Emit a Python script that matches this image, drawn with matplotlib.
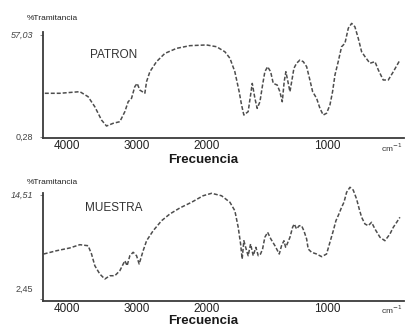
import numpy as np
import matplotlib
matplotlib.use("Agg")
import matplotlib.pyplot as plt

plt.rcParams['font.family'] = ['Liberation Sans', 'DejaVu Sans']

# IR spectrum of the reference standard: wavenumber (cm-1) and % transmittance
patron_wn = [4314, 4100, 3814, 3696, 3600, 3504, 3433, 3338, 3243, 3171, 3124, 3076,
             3029, 2996, 2957, 2886, 2861, 2814, 2719, 2600, 2433, 2243, 2005, 1919,
             1850, 1808, 1767, 1731, 1711, 1692, 1656, 1636, 1622, 1600, 1581, 1558,
             1536, 1517, 1494, 1469, 1447, 1414, 1392, 1372, 1356, 1342, 1325, 1308,
             1289, 1275, 1253, 1225, 1197, 1169, 1142, 1119, 1086, 1058, 1031, 1003,
             975, 953, 933, 906, 878, 850, 822, 794, 767, 739, 711, 683, 642, 600,
             572, 531, 489, 447, 392]
patron_t = [24.6, 24.6, 25.5, 22.7, 17.1, 9.7, 6.4, 7.9, 8.8, 14.4, 19.9, 21.8,
            28.3, 30.1, 26.4, 24.6, 31.1, 36.6, 42.2, 46.8, 49.6, 51.1, 51.5, 50.5,
            47.7, 44.1, 36.6, 25.5, 18.1, 12.5, 14.4, 23.6, 30.1, 21.8, 16.2, 19.9,
            29.2, 36.6, 39.4, 36.6, 30.1, 29.2, 25.5, 19.9, 31.1, 36.6, 31.1, 25.5,
            32.9, 38.5, 41.3, 43.1, 42.2, 39.4, 32.0, 25.5, 21.8, 16.2, 12.5, 13.5,
            18.1, 25.5, 34.8, 42.2, 50.5, 52.4, 60.8, 63.5, 61.6, 55.2, 47.7, 45.0,
            41.3, 42.2, 37.6, 32.0, 32.0, 36.6, 43.1]

# IR spectrum of the sample
muestra_wn = [4330, 4147, 3957, 3814, 3696, 3647, 3600, 3529, 3457, 3386, 3314, 3243,
              3171, 3139, 3100, 3053, 3004, 2967, 2910, 2861, 2767, 2647, 2529, 2386,
              2219, 2053, 1961, 1878, 1808, 1767, 1739, 1719, 1706, 1692, 1669, 1656,
              1636, 1614, 1592, 1572, 1553, 1536, 1517, 1494, 1467, 1433, 1397, 1378,
              1358, 1344, 1331, 1308, 1286, 1272, 1253, 1231, 1211, 1192, 1169, 1156,
              1128, 1086, 1044, 1003, 975, 947, 925, 900, 878, 858, 836, 808, 781,
              753, 731, 711, 683, 656, 628, 600, 558, 517, 475, 447, 419, 392]
muestra_t = [7.67, 8.05, 8.37, 8.75, 8.63, 7.67, 6.31, 5.35, 4.77, 5.15, 5.15, 5.73,
             6.89, 6.31, 7.47, 7.87, 7.47, 6.51, 8.05, 9.21, 10.37, 11.53, 12.31, 13.01,
             13.67, 14.43, 14.71, 14.43, 13.67, 12.69, 10.77, 8.83, 7.09, 9.21, 8.05, 7.47,
             8.83, 7.47, 8.45, 7.47, 7.67, 8.25, 9.61, 10.19, 9.41, 8.63, 7.67, 8.63,
             9.21, 8.45, 8.83, 9.61, 10.77, 11.15, 10.57, 10.95, 10.95, 10.37, 9.41, 8.25,
             7.87, 7.67, 7.36, 7.67, 9.03, 10.37, 11.53, 12.31, 13.09, 13.67, 14.83, 15.41,
             15.09, 14.05, 12.89, 11.93, 11.15, 10.95, 11.35, 10.57, 9.61, 9.21, 9.99,
             10.77, 11.35, 11.93]

x_ticks = [4000, 3000, 2000, 1000]
x_tick_labels = ["4000", "3000", "2000", "1000"]
patron_range = [0.28, 57.03]
patron_range_labels = ["0,28", "57,03"]
muestra_range = [2.45, 14.51]
muestra_range_labels = ["2,45", "14,51"]

W, H = 407, 329


# wavenumber axis: compressed above 2000 cm-1, expanded below
def fwd(w):
    w = np.asarray(w, float)
    return np.where(w >= 2000, 240 + (w - 2000) * 0.07, w * 0.12)


def inv(p):
    p = np.asarray(p, float)
    return np.where(p >= 240, 2000 + (p - 240) / 0.07, p / 0.12)


fig = plt.figure(figsize=(W / 100, H / 100), dpi=100)
fig.patch.set_facecolor('white')


def ftext(x, y, s, **kw):
    fig.text(x / W, 1 - y / H, s, **kw)


def panel(rect, wn, t, rng, rng_labels, ylim, spine_top, title, title_xy,
          label_y, freq_top, low_offset):
    ax = fig.add_axes(rect)
    ax.set_xscale('function', functions=(fwd, inv))
    ax.set_xlim(4340, 358)
    ax.set_ylim(*ylim)
    ax.plot(wn, t, color='#4d4d4d', lw=1.1, ls=(0, (2.6, 1.3)), clip_on=False)
    for s in ('top', 'right'):
        ax.spines[s].set_visible(False)
    for s in ('left', 'bottom'):
        ax.spines[s].set_color('#3a3a3a')
        ax.spines[s].set_linewidth(1.3)
    ax.spines['left'].set_bounds(ylim[0], spine_top)
    ax.set_xticks(x_ticks)
    ax.set_xticklabels(x_tick_labels)
    ax.xaxis.set_minor_locator(matplotlib.ticker.NullLocator())
    ax.tick_params(axis='x', length=0, pad=1.5, labelsize=8.5, labelcolor='#222222')
    ax.set_yticks(rng)
    ax.set_yticklabels([])
    ax.tick_params(axis='y', length=2, width=0.6, color='#777777')
    ax.annotate(rng_labels[0], xy=(0, rng[0]), xycoords=('axes fraction', 'data'),
                xytext=(-7, low_offset), textcoords='offset points',
                ha='right', va='center', fontsize=6.5, color='#444444')
    ax.annotate(rng_labels[1], xy=(0, rng[1]), xycoords=('axes fraction', 'data'),
                xytext=(-7, 0), textcoords='offset points',
                ha='right', va='center', fontsize=6.5, color='#444444',
                style='italic')
    ftext(title_xy[0], title_xy[1], title, fontsize=8.5, color='#333333',
          ha='left', va='center')
    ftext(52, label_y, '%Tramitancia', fontsize=6, color='#222222',
          ha='center', va='center')
    ftext(203, freq_top, 'Frecuencia', fontsize=9.5, fontweight='bold',
          color='#1a1a1a', ha='center', va='top')
    ftext(392, freq_top - 6, r'cm$^{-1}$', fontsize=6, color='#333333',
          ha='center', va='center')
    return ax


panel([43 / W, (H - 138) / H, 361 / W, 118 / H], patron_wn, patron_t,
      patron_range, patron_range_labels, (-0.276, 65.38), 58.7,
      'PATRON', (90, 55), 18, 154, 0)

panel([43 / W, (H - 301) / H, 361 / W, 116 / H], muestra_wn, muestra_t,
      muestra_range, muestra_range_labels, (2.218, 15.674), 14.75,
      'MUESTRA', (85, 208), 182, 315.5, 7)

fig.savefig('out.png', dpi=100, facecolor='white')
